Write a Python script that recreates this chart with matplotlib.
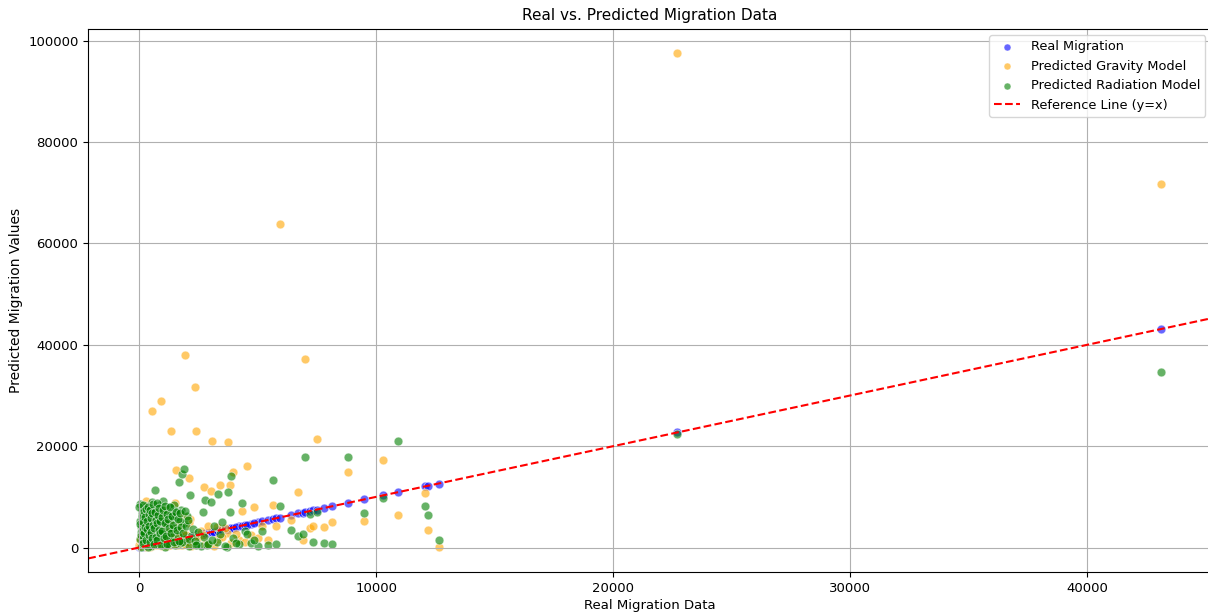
import numpy as np
import matplotlib.pyplot as plt

# Real migration values (x) with the two model predictions for each pair
real_dense = [40, 60, 90, 120, 150, 180, 210, 240, 270, 300,
              330, 360, 390, 420, 450, 480, 520, 560, 600, 650,
              680, 720, 760, 800, 840, 880, 910, 960, 1000, 1050,
              1100, 1150, 1200, 1250, 1300, 1340, 1400, 1450, 1500, 1550,
              1600, 1660, 1700, 1750, 1800, 1870, 1900, 1940, 2000, 2080,
              2150, 2200,
              20, 70, 130, 200, 260, 320, 380, 440, 500, 580, 620, 700,
              780, 850, 940, 1020, 1120, 1220, 1320, 1420, 1520, 1620, 1720, 1820]
radiation_dense = [8600, 200, 4100, 6900, 1300, 7700, 2900, 5600, 500, 8200,
                   3400, 6200, 1800, 7300, 4700, 300, 8900, 2300, 5900, 11400,
                   7000, 3800, 6600, 600, 8400, 2600, 5100, 1500, 9200, 4400,
                   200, 6800, 3100, 7900, 1200, 5400, 2000, 8300, 400, 6100,
                   3600, 12900, 900, 7400, 14500, 15500, 4800, 1600, 6300, 300,
                   10300, 2200,
                   5300, 3000, 7400, 2100, 6400, 800, 4900, 3700, 7800, 1100, 4300, 2500,
                   5700, 3300, 7100, 2700, 5000, 700, 6500, 3900, 7200, 2300, 5300, 1000]
gravity_dense = [1200, 300, 2100, 800, 4500, 600, 1500, 3300, 200, 9100,
                 700, 1900, 400, 2600, 1100, 5200, 26900, 1400, 800, 3100,
                 500, 2200, 900, 1700, 400, 6500, 28900, 2800, 600, 1300,
                 7500, 300, 2400, 900, 3800, 23000, 1800, 1200, 8700, 15200,
                 2000, 400, 3500, 1100, 600, 2900, 800, 37900, 1500, 13700,
                 5600, 300,
                 600, 1700, 2500, 400, 900, 3600, 1300, 200, 2700, 1600, 500, 4100,
                 700, 1900, 300, 2300, 1000, 4800, 600, 1500, 3200, 900, 2600, 400]

real_fill = [10, 30, 50, 80, 100, 110, 140, 160, 170, 190,
             220, 230, 250, 280, 290, 310, 340, 350, 370, 400,
             410, 430, 460, 470, 490, 510, 530, 540, 570, 590,
             610, 630, 660, 690, 710, 730, 750, 770, 790, 820,
             830, 860, 890, 930, 950, 980, 1010, 1040, 1070, 1090,
             1130, 1170, 1190, 1230, 1270, 1290, 1330, 1380, 1430, 1470,
             1530, 1580, 1630, 1680, 1730, 1780, 1850, 1920, 1980, 2050,
             2120, 2250, 2450, 2600, 2850, 3300, 3700, 4200, 4700, 5000]
radiation_fill = [7900, 1700, 4600, 2400, 6300, 3200, 8300, 900, 5100, 7200,
                  2800, 6000, 4000, 1400, 7600, 3600, 5300, 200, 8000, 2500,
                  6700, 4300, 1000, 7500, 3000, 5800, 6900, 1900, 4500, 8500,
                  600, 3900, 7100, 2100, 5500, 8800, 1500, 4800, 6400, 3500,
                  7800, 2900, 5200, 400, 6100, 3300, 7400, 1800, 8100, 4900,
                  2300, 6700, 700, 5700, 3800, 8000, 2800, 6200, 4400, 1100,
                  7000, 3400, 5600, 1300, 6800, 4000, 2900, 7300, 4200, 5400,
                  1700, 3600, 700, 300, 500, 1100, 200, 600, 900, 300]
gravity_fill = [500, 1400, 300, 2200, 900, 3400, 600, 1800, 2900, 400,
                1100, 700, 2500, 1600, 300, 4200, 800, 1300, 2000, 500,
                3700, 900, 1500, 600, 2400, 1000, 300, 4600, 700, 1900,
                2700, 400, 1200, 3100, 800, 500, 2300, 1600, 900, 6000,
                400, 1700, 2800, 700, 1100, 3900, 500, 2100, 800, 1400,
                600, 3300, 900, 1800, 5000, 400, 2600, 1000, 700, 3600,
                1300, 500, 2200, 4400, 900, 1500, 6200, 700, 2400, 1100,
                4900, 1000, 2300, 3300, 700, 4000, 2900, 1500, 2500, 1800]

real_mid = [2360, 2400, 2500, 2670, 2730, 2780, 2900, 3040, 3070, 3150, 3320,
            3420, 3490, 3600, 3730, 3810, 3880, 3940, 4100, 4330, 4450]
radiation_mid = [1200, 400, 3100, 7100, 2000, 9300, 600, 8900, 1500, 4200, 10600,
                 2600, 5000, 300, 10900, 7100, 14200, 1900, 800, 8700, 3300]
gravity_mid = [31600, 23000, 1800, 2500, 12000, 700, 4300, 11200, 21000, 300, 1600,
               12400, 2100, 3800, 20800, 12400, 900, 15000, 2700, 7300, 1100]

real_high = [4530, 4850, 5180, 5430, 5640, 5780, 5920, 6410, 6720, 6900, 7000, 7190,
             7330, 7500, 7800, 8130, 8800, 9490, 10300, 10940, 12070, 12170, 12630,
             22700, 43100]
radiation_high = [2600, 1500, 3350, 500, 13400, 600, 8100, 3500, 2200, 2700, 17900, 6600,
                  1050, 7000, 850, 600, 17900, 6800, 9800, 21000, 8100, 6400, 1400,
                  22500, 34700]
gravity_high = [16000, 7900, 4300, 1500, 8400, 4300, 63800, 5500, 10900, 1400, 37300, 3900,
                4300, 21400, 4100, 5000, 15000, 5300, 17300, 6500, 10800, 3550, 60,
                97500, 71700]

real = np.array(real_dense + real_fill + real_mid + real_high)
gravity = np.array(gravity_dense + gravity_fill + gravity_mid + gravity_high)
radiation = np.array(radiation_dense + radiation_fill + radiation_mid + radiation_high)

fig = plt.figure(figsize=(12.08, 6.12), dpi=100)
ax = fig.add_axes([0.073, 0.065, 0.93, 0.888])

kw = dict(s=40, alpha=0.6, edgecolors='white', linewidths=0.6)
ax.scatter(real, real, color='blue', label='Real Migration', **kw)
ax.scatter(real, gravity, color='orange', label='Predicted Gravity Model', **kw)
ax.scatter(real, radiation, color='green', label='Predicted Radiation Model', **kw)
ax.axline((0, 0), slope=1, color='red', linestyle='--', label='Reference Line (y=x)')

ax.set_xlabel('Real Migration Data', fontsize=9.5, labelpad=3)
ax.set_ylabel('Predicted Migration Values', fontsize=10)
ax.set_title('Real vs. Predicted Migration Data', fontsize=11)
ax.tick_params(labelsize=9.5)
ax.grid(True)
ax.legend(loc='upper right', fontsize=9.3, markerscale=0.8)

plt.savefig("out.png", dpi=100)
